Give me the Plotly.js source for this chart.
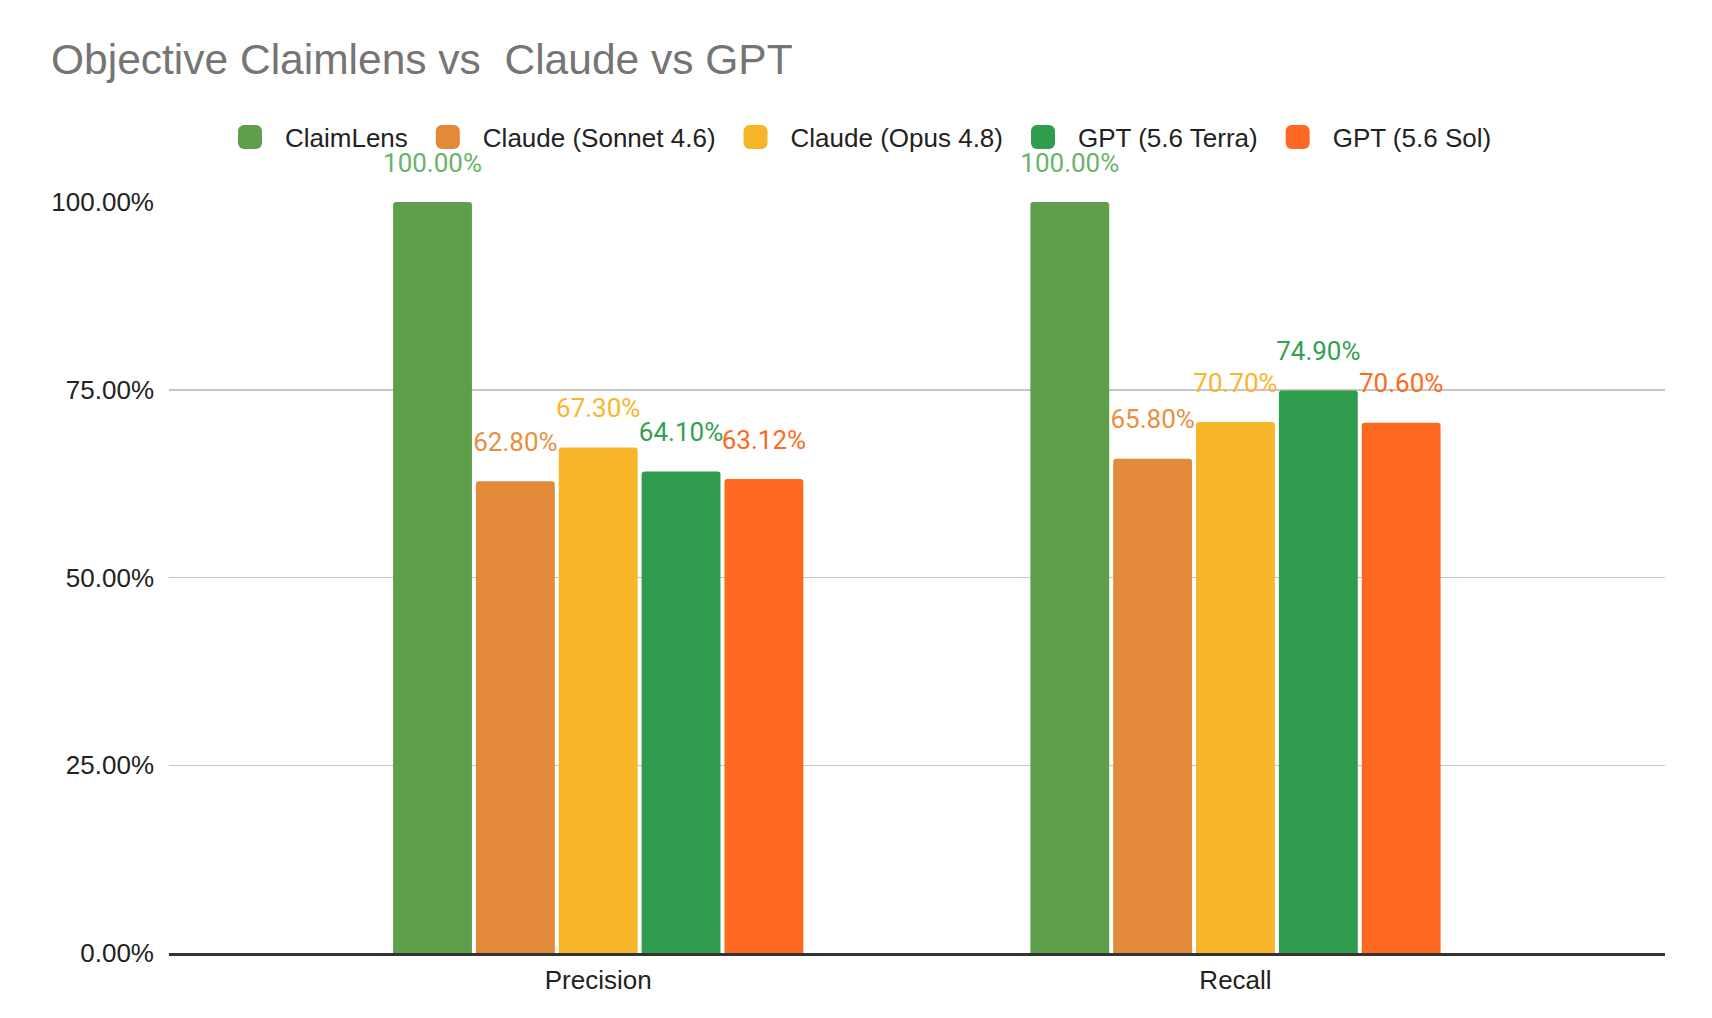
<!DOCTYPE html>
<html>
<head>
<meta charset="utf-8">
<script src="https://cdn.plot.ly/plotly-3.0.1.min.js"></script>
<style>
  html, body { margin: 0; padding: 0; background: #fff; }
  #chart { width: 1712px; height: 1018px; }
</style>
</head>
<body>
<div id="chart"></div>
<script>
// datos
const categories = ['Precision', 'Recall'];
const seriesNames = ['ClaimLens', 'Claude (Sonnet 4.6)', 'Claude (Opus 4.8)', 'GPT (5.6 Terra)', 'GPT (5.6 Sol)'];
const claimLens = [1.0, 1.0];
const sonnet = [0.628, 0.658];
const opus = [0.673, 0.707];
const terra = [0.641, 0.749];
const sol = [0.6312, 0.706];
const yTicks = [0, 0.25, 0.5, 0.75, 1.0];

const barColors = ['#5f9e4b', '#e2893a', '#f7b529', '#2f9c4e', '#fe6820'];
const labelColors = ['#6ab36c', '#e98f40', '#f9b52c', '#34a050', '#fe6a22'];

document.addEventListener('DOMContentLoaded', function() {
    drawChart();
});

function drawChart() {
    const values = [claimLens, sonnet, opus, terra, sol];

    // la etiqueta va bastante por encima de la barra (línea vacía debajo)
    const traces = values.map((vals, i) => ({
        type: 'bar',
        name: seriesNames[i],
        x: categories,
        y: vals,
        marker: { color: barColors[i], cornerradius: 3, line: { width: 0 } },
        texttemplate: '<span style="font-size:26px">%{y:.2%}</span><br>\u00a0',
        textposition: 'outside',
        constraintext: 'none',
        cliponaxis: false,
        textfont: { family: 'Roboto, Arial, sans-serif', size: 18, color: labelColors[i] },
        hoverinfo: 'skip'
    }));

    const layout = {
        width: 1712,
        height: 1018,
        paper_bgcolor: '#ffffff',
        plot_bgcolor: '#ffffff',
        font: { family: 'Arial, "Liberation Sans", sans-serif', size: 26, color: '#222222' },
        title: {
            text: 'Objective Claimlens vs\u00a0 Claude vs GPT',
            font: { family: 'Arial, "Liberation Sans", sans-serif', size: 42.5, color: '#757575' },
            xref: 'container', yref: 'container',
            x: 51 / 1712, xanchor: 'left',
            y: 1 - 59 / 1018, yanchor: 'middle'
        },
        margin: { l: 169, r: 47, t: 202, b: 65 },
        barmode: 'group',
        bargap: 0.35,
        bargroupgap: 0.048,
        showlegend: true,
        legend: {
            orientation: 'h',
            xref: 'container', yref: 'container',
            x: 0.5, xanchor: 'center',
            y: 1 - 137 / 1018, yanchor: 'middle',
            itemwidth: 60,
            bgcolor: 'rgba(0,0,0,0)',
            font: { family: 'Arial, "Liberation Sans", sans-serif', size: 26, color: '#222222' },
            traceorder: 'normal'
        },
        xaxis: {
            type: 'category',
            range: [-0.6735, 1.674],
            showgrid: false,
            zeroline: false,
            showline: true,
            linecolor: '#333333',
            linewidth: 2.5,
            ticks: '',
            ticklabelstandoff: 2,
            tickfont: { size: 26, color: '#222222' },
            fixedrange: true
        },
        yaxis: {
            range: [0, 1],
            tickvals: yTicks,
            tickformat: '.2%',
            showgrid: true,
            gridcolor: '#c6c6c6',
            gridwidth: 1.5,
            zeroline: false,
            showline: false,
            ticks: '',
            ticklabelstandoff: 14,
            tickfont: { size: 26, color: '#222222' },
            fixedrange: true
        }
    };

    Plotly.newPlot('chart', traces, layout, { displayModeBar: false, staticPlot: true }).then(() => {
        // cuadrados de la leyenda más grandes, como en el original
        document.querySelectorAll('.legend .legendpoints path').forEach(p => {
            const t = p.getAttribute('transform') || '';
            p.setAttribute('transform', t + ' scale(2)');
        });
    });
}
</script>
</body>
</html>
